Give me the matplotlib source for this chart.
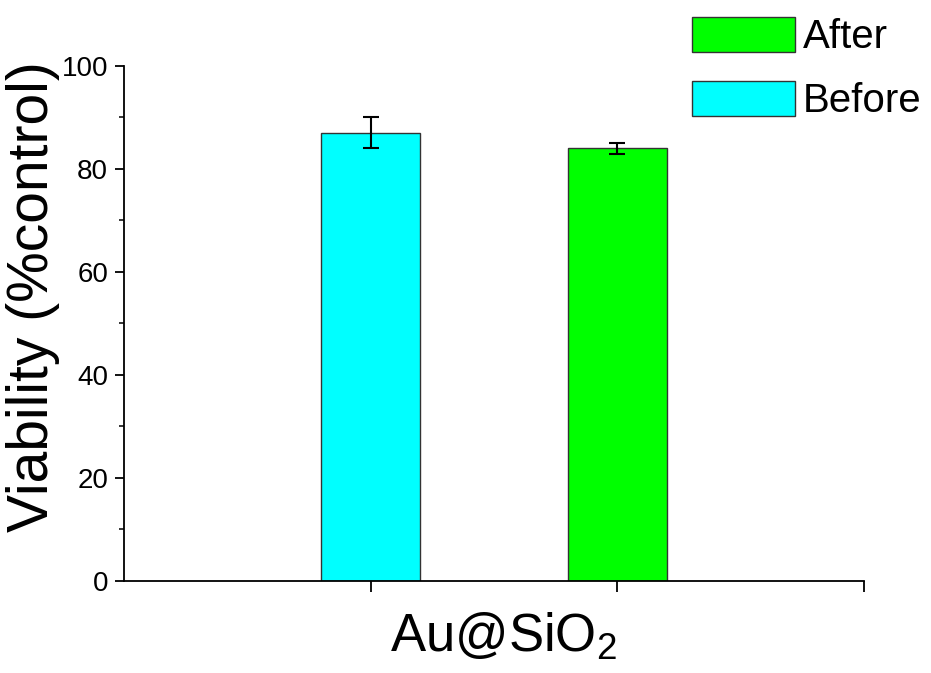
import numpy as np
import matplotlib
matplotlib.use("Agg")
import matplotlib.pyplot as plt

# data
groups = ["Before", "After"]
positions = [1, 2]
viability = [87.0, 84.0]
errors = [3.0, 1.0]
colors = ["#00FFFF", "#00FF00"]

plt.rcParams['font.family'] = ['Liberation Sans', 'DejaVu Sans']
plt.rcParams['mathtext.fontset'] = 'custom'
plt.rcParams['mathtext.rm'] = 'Liberation Sans'
plt.rcParams['mathtext.default'] = 'regular'

fig = plt.figure(figsize=(9.31, 6.73), dpi=100)
ax = fig.add_axes([0.1332, 0.1367, 0.7948, 0.7653])

bars = []
for p, v, e, c, g in zip(positions, viability, errors, colors, groups):
    b = ax.bar(p, v, width=0.4, color=c, edgecolor='#333333', linewidth=1.0, label=g)
    ax.errorbar(p, v, yerr=e, fmt='none', ecolor='black', elinewidth=1.5,
                capsize=6, capthick=1.5)
    bars.append(b)

ax.set_xlim(0, 3)
ax.set_ylim(0, 100)
ax.set_xticks([1, 2, 3])
ax.set_xticklabels([])
ax.set_yticks([0, 20, 40, 60, 80, 100])
ax.set_yticks([10, 30, 50, 70, 90], minor=True)

for s in ['top', 'right']:
    ax.spines[s].set_visible(False)
for s in ['left', 'bottom']:
    ax.spines[s].set_linewidth(1.3)

ax.tick_params(axis='y', which='major', direction='out', length=6.5, width=1.3,
               labelsize=20, pad=5)
ax.tick_params(axis='x', which='major', direction='out', length=8, width=1.3)
ax.tick_params(axis='y', which='minor', direction='out', length=3.5, width=1.1)

ax.set_ylabel("Viability (%control)", fontsize=41)
ax.yaxis.set_label_coords(-0.087, 0.553)
ax.set_xlabel("Au@SiO$_2$", fontsize=38)
ax.xaxis.set_label_coords(0.5135, -0.058)

# legend: After on top, Before below
leg = fig.legend([bars[1], bars[0]], ["After", "Before"],
                 loc='upper left', bbox_to_anchor=(692 / 931, 1 - 17 / 673),
                 frameon=False, fontsize=29, handlelength=2.56, handleheight=0.97,
                 labelspacing=0.6, handletextpad=0.2, borderaxespad=0, borderpad=0)

plt.savefig("out.png", dpi=100)
